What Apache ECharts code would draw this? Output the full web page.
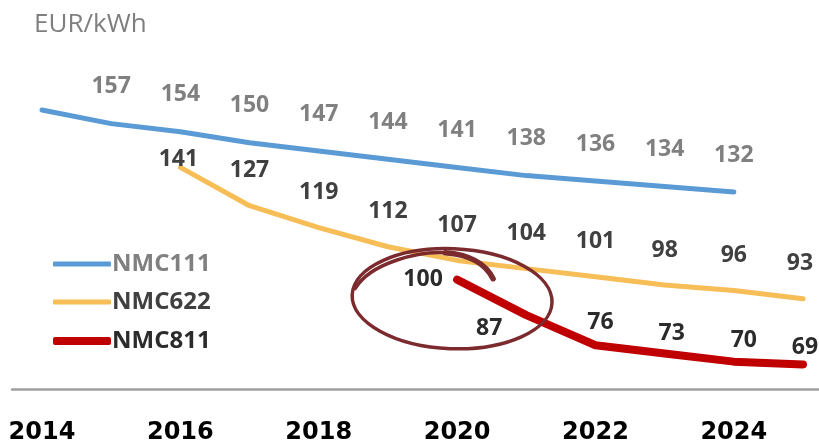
<!DOCTYPE html>
<html>
<head>
<meta charset="utf-8">
<script src="https://cdn.jsdelivr.net/npm/echarts@6/dist/echarts.min.js"></script>
<style>
  html, body { margin: 0; padding: 0; background: #ffffff; }
  #chart { width: 819px; height: 445px; }
</style>
</head>
<body>
<div id="chart"></div>
<script>
// Cathode cost per kWh by chemistry
const years      = [2014, 2015, 2016, 2017, 2018, 2019, 2020, 2021, 2022, 2023, 2024, 2025];
const nmc111     = [162, 157, 154, 150, 147, 144, 141, 138, 136, 134, 132, null];
const nmc622     = [null, null, 141, 127, 119, 112, 107, 104, 101, 98, 96, 93];
const nmc811     = [null, null, null, null, null, null, 100, 87, 76, 73, 70, 69];
const tickYears  = [2014, 2016, 2018, 2020, 2022, 2024];
const unitLabel  = 'EUR/kWh';
const seriesNames = ['NMC111', 'NMC622', 'NMC811'];
const unlabelledNmc111 = [2014];

// label placement around each point (pixels)
const offsets111 = { default: [0, -37] };
const offsets622 = { default: [0, -35], 2016: [-2, -8], 2025: [-3, -35] };
const offsets811 = { default: [0, -21], 2020: [-34, 0], 2021: [-37, 13], 2022: [5, -23], 2023: [7, -20], 2024: [10, -21], 2025: [2, -17] };

const COLORS = { NMC111: '#5b9bd5', NMC622: '#f7bd56', NMC811: '#c00000' };
const LABEL_COLORS = { NMC111: '#808080', NMC622: '#404040', NMC811: '#2b2b2b' };
const FONT = 'Open Sans';

function buildData(values, offsets, hidden) {
  const out = [];
  years.forEach((y, i) => {
    const v = values[i];
    if (v == null) return;
    const show = !(hidden || []).includes(y);
    out.push({
      value: [y, v],
      label: { show: show, offset: offsets[y] || offsets.default }
    });
  });
  return out;
}

function lineSeries(name, values, offsets, width, hidden) {
  return {
    name: name,
    type: 'line',
    data: buildData(values, offsets, hidden),
    symbol: 'circle',
    symbolSize: 0.01,
    showSymbol: true,
    smooth: false,
    lineStyle: { color: COLORS[name], width: width, cap: 'round', join: 'round' },
    itemStyle: { color: COLORS[name] },
    label: {
      show: true,
      position: 'inside',
      formatter: p => String(p.value[1]),
      color: LABEL_COLORS[name],
      fontFamily: FONT,
      fontWeight: 'bold',
      fontSize: 23
    },
    emphasis: { disabled: true },
    z: 3
  };
}

function legendFor(name, top, h, textColor) {
  return {
    data: [{ name: name, icon: 'roundRect', itemStyle: { color: COLORS[name] } }],
    left: 53,
    top: top,
    orient: 'vertical',
    itemWidth: 58,
    itemHeight: h,
    itemGap: 0,
    padding: 0,
    selectedMode: false,
    textStyle: { color: textColor, fontFamily: FONT, fontWeight: 'bold', fontSize: 24, padding: [0, 0, 0, -4] }
  };
}

const chart = echarts.init(document.getElementById('chart'), null, { renderer: 'canvas' });

chart.setOption({
  animation: false,
  backgroundColor: '#ffffff',
  title: {
    text: unitLabel,
    left: 34,
    top: 12,
    padding: 0,
    textStyle: { color: '#7f7f7f', fontFamily: FONT, fontWeight: 'normal', fontSize: 26 }
  },
  legend: [
    legendFor(seriesNames[0], 252, 5, LABEL_COLORS.NMC111),
    legendFor(seriesNames[1], 290, 5, LABEL_COLORS.NMC622),
    legendFor(seriesNames[2], 329, 8, LABEL_COLORS.NMC811)
  ],
  grid: { left: 12, right: 0, top: 6, bottom: 53, containLabel: false },
  xAxis: {
    type: 'value',
    min: 2014 - 30 / 69.2,
    max: 2025 + 16 / 69.2,
    splitLine: { show: false },
    axisTick: { show: false },
    axisLine: { show: true, lineStyle: { color: '#a0a0a0', width: 2.5 } },
    axisLabel: {
      customValues: tickYears,
      formatter: v => String(v),
      color: '#000000',
      fontFamily: 'DejaVu Sans',
      fontWeight: 'bold',
      fontSize: 24,
      margin: 32
    }
  },
  yAxis: {
    type: 'value',
    min: 60,
    max: 200,
    show: false,
    splitLine: { show: false }
  },
  series: [
    lineSeries(seriesNames[0], nmc111, offsets111, 5, unlabelledNmc111),
    lineSeries(seriesNames[1], nmc622, offsets622, 5),
    lineSeries(seriesNames[2], nmc811, offsets811, 8)
  ]
});

// Hand-drawn style ring highlighting the NMC811 launch point
const anchor = chart.convertToPixel({ gridIndex: 0 }, [2020, 93]);
const ringColor = '#7b2a2e';
const ax = anchor[0], ay = anchor[1];
chart.setOption({
  graphic: [
    {
      type: 'ellipse',
      x: ax - 5,
      y: ay,
      rotation: -0.04,
      shape: { cx: 0, cy: 0, rx: 100, ry: 50 },
      style: { fill: 'none', stroke: ringColor, lineWidth: 3.5 },
      z: 100,
      silent: true
    },
    {
      type: 'bezierCurve',
      shape: { x1: ax - 102, y1: ay - 10, x2: ax - 12, y2: ay - 46, cpx1: ax - 87, cpy1: ay - 36, cpx2: ax - 37, cpy2: ay - 48 },
      style: { fill: 'none', stroke: ringColor, lineWidth: 3.5, lineCap: 'round' },
      z: 100,
      silent: true
    },
    {
      type: 'bezierCurve',
      shape: { x1: ax - 12, y1: ay - 46, x2: ax + 36, y2: ay - 20, cpx1: ax + 13, cpy1: ay - 44, cpx2: ax + 28, cpy2: ay - 36 },
      style: { fill: 'none', stroke: ringColor, lineWidth: 5.5, lineCap: 'round' },
      z: 100,
      silent: true
    }
  ]
});
</script>
</body>
</html>
